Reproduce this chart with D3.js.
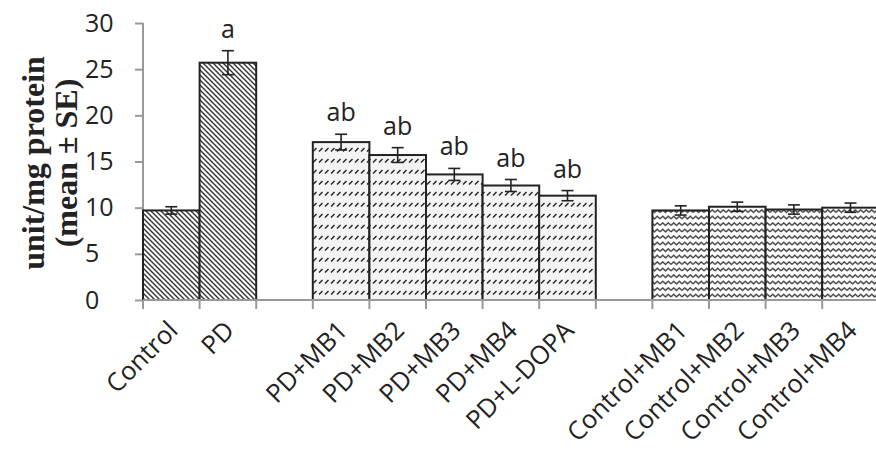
<!DOCTYPE html>
<html>
<head>
<meta charset="utf-8">
<script src="https://cdn.jsdelivr.net/npm/d3@7"></script>
<style>
  body { margin: 0; background: #fff; }
  svg { display: block; }
</style>
</head>
<body>
<svg id="chart" width="876" height="455"></svg>
<script>
// slots, including the two empty gap slots between groups
const categories = ['Control', 'PD', '', 'PD+MB1', 'PD+MB2', 'PD+MB3', 'PD+MB4', 'PD+L-DOPA',
  '', 'Control+MB1', 'Control+MB2', 'Control+MB3', 'Control+MB4'];
const means = [9.7, 25.7, null, 17.1, 15.7, 13.6, 12.4, 11.3, null, 9.7, 10.1, 9.8, 10.0];
const errors = [0.4, 1.3, null, 0.85, 0.8, 0.65, 0.65, 0.55, null, 0.5, 0.5, 0.5, 0.5];
const letters = ['', 'a', '', 'ab', 'ab', 'ab', 'ab', 'ab', '', '', '', '', ''];
const groups = ['hatch', 'hatch', null, 'dash', 'dash', 'dash', 'dash', 'dash', null, 'wave', 'wave', 'wave', 'wave'];
const yTicks = [0, 5, 10, 15, 20, 25, 30];

const margin = {top: 23, left: 143, bottom: 155};
const width = 876, height = 455;
const slot = 56.6;
const font = 'Open Sans, sans-serif';

const svg = d3.select('#chart');

const x = d3.scaleBand()
  .domain(d3.range(categories.length))
  .range([margin.left, margin.left + slot * categories.length])
  .padding(0);

const y = d3.scaleLinear()
  .domain([0, 30])
  .range([height - margin.bottom, margin.top]);

// fill patterns
const defs = svg.append('defs');

const hatch = defs.append('pattern')
  .attr('id', 'hatch').attr('patternUnits', 'userSpaceOnUse')
  .attr('width', 5).attr('height', 5);
hatch.append('rect').attr('width', 5).attr('height', 5).attr('fill', '#fff');
hatch.append('path')
  .attr('d', 'M-1,-1 L6,6 M-1,4 L1,6 M4,-1 L6,1')
  .attr('stroke', '#333').attr('stroke-width', 1.4);

const dash = defs.append('pattern')
  .attr('id', 'dash').attr('patternUnits', 'userSpaceOnUse')
  .attr('width', 6).attr('height', 11);
dash.append('rect').attr('width', 6).attr('height', 11).attr('fill', '#f4f4f4');
dash.append('path')
  .attr('d', 'M1,8.5 L4.5,5')
  .attr('stroke', '#222').attr('stroke-width', 1.5);

const wave = defs.append('pattern')
  .attr('id', 'wave').attr('patternUnits', 'userSpaceOnUse')
  .attr('width', 11).attr('height', 6.5);
wave.append('rect').attr('width', 11).attr('height', 6.5).attr('fill', '#fff');
wave.append('path')
  .attr('d', 'M0,4.5 L2.75,1.8 L5.5,4.5 L8.25,1.8 L11,4.5')
  .attr('fill', 'none').attr('stroke', '#333').attr('stroke-width', 1.3);

// y axis
const yAxis = svg.append('g')
  .attr('transform', `translate(${margin.left},0)`)
  .call(d3.axisLeft(y).tickValues(yTicks).tickSize(8));
yAxis.selectAll('line, path').attr('stroke', '#999').attr('stroke-width', 2);
yAxis.select('.domain').attr('d', `M0,${y(30)}V${y(0)}`);
yAxis.selectAll('text')
  .attr('x', 85 - margin.left)
  .attr('text-anchor', 'start')
  .attr('font-family', font)
  .attr('font-size', 25).attr('fill', '#222');

// bars
const idx = d3.range(categories.length).filter(i => means[i] !== null);

svg.append('g').selectAll('rect')
  .data(idx)
  .join('rect')
  .attr('x', i => x(i))
  .attr('y', i => y(means[i]))
  .attr('width', x.bandwidth())
  .attr('height', i => y(0) - y(means[i]))
  .attr('fill', i => `url(#${groups[i]})`)
  .attr('stroke', '#222')
  .attr('stroke-width', 2);

// error bars
const cx = i => x(i) + x.bandwidth() / 2;
const eb = svg.append('g').selectAll('g')
  .data(idx)
  .join('g')
  .attr('stroke', '#222').attr('stroke-width', 1.6);
eb.append('line')
  .attr('x1', cx).attr('x2', cx)
  .attr('y1', i => y(means[i] + errors[i])).attr('y2', i => y(means[i] - errors[i]));
eb.append('line')
  .attr('x1', i => cx(i) - 6).attr('x2', i => cx(i) + 6)
  .attr('y1', i => y(means[i] + errors[i])).attr('y2', i => y(means[i] + errors[i]));
eb.append('line')
  .attr('x1', i => cx(i) - 6).attr('x2', i => cx(i) + 6)
  .attr('y1', i => y(means[i] - errors[i])).attr('y2', i => y(means[i] - errors[i]));

// significance letters
svg.append('g').selectAll('text')
  .data(idx.filter(i => letters[i]))
  .join('text')
  .attr('x', cx)
  .attr('y', i => y(means[i] + errors[i]) - 13)
  .attr('text-anchor', 'middle')
  .attr('font-family', font)
  .attr('font-size', 25).attr('fill', '#222')
  .text(i => letters[i]);

// x axis
const xAxis = svg.append('g')
  .attr('transform', `translate(0,${y(0)})`);
xAxis.append('line')
  .attr('x1', margin.left).attr('x2', width)
  .attr('stroke', '#999').attr('stroke-width', 2);
xAxis.selectAll('.tick')
  .data(d3.range(categories.length + 1))
  .join('line')
  .attr('x1', i => margin.left + i * slot).attr('x2', i => margin.left + i * slot)
  .attr('y1', 0).attr('y2', 9)
  .attr('stroke', '#999').attr('stroke-width', 2);

xAxis.selectAll('text')
  .data(d3.range(categories.length).filter(i => categories[i]))
  .join('text')
  .attr('transform', i => `translate(${cx(i) + 8},32) rotate(-45)`)
  .attr('text-anchor', 'end')
  .attr('font-family', font)
  .attr('font-size', 25.5).attr('fill', '#222')
  .text(i => categories[i]);

// y axis title
const title = svg.append('text')
  .attr('transform', 'translate(0,163) rotate(-90)')
  .attr('text-anchor', 'middle')
  .attr('font-family', 'Liberation Serif, serif')
  .attr('font-weight', 'bold')
  .attr('font-size', 32).attr('fill', '#222');
title.append('tspan').attr('x', 0).attr('y', 44).text('unit/mg protein');
title.append('tspan').attr('x', 0).attr('y', 77).text('(mean \u00b1 SE)');
</script>
</body>
</html>
